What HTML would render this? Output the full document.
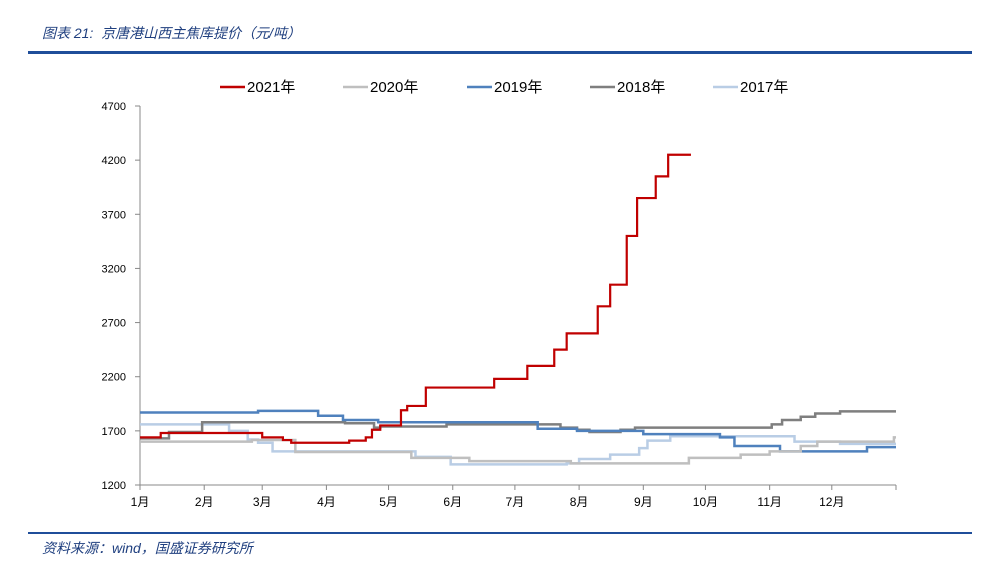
<!DOCTYPE html>
<html><head><meta charset="utf-8"><style>
body{margin:0;background:#fff;width:982px;height:566px;overflow:hidden;position:relative;font-family:"Liberation Sans","Noto Sans CJK SC",sans-serif}
.t{position:absolute;font-style:italic;color:#1f3f7f;font-size:14px}
</style></head><body>
<div class="t" style="left:42px;top:23px">图表 21:&nbsp; 京唐港山西主焦库提价（元/吨）</div>
<div style="position:absolute;left:28px;top:51px;width:944px;height:3px;background:#1f4e9a"></div>
<svg id="c" width="982" height="566" style="position:absolute;left:0;top:0"></svg>
<div style="position:absolute;left:28px;top:532px;width:944px;height:2px;background:#1f4e9a"></div>
<div class="t" style="left:42px;top:538px">资料来源：wind，国盛证券研究所</div>
<script>
const yTicks=[1200,1700,2200,2700,3200,3700,4200,4700];
const months=["1月","2月","3月","4月","5月","6月","7月","8月","9月","10月","11月","12月"];
const monthStart=[0,31,59,90,120,151,181,212,243,273,304,334];
const names=["2021年","2020年","2019年","2018年","2017年"];
const colors=["#c00000","#bfbfbf","#4f81bd","#7f7f7f","#b9cde5"];
const d2021=[0,10,59,69,73,101,109,112,116,126,129,138,171,187,200,206,221,227,235,240,249,255];
const v2021=[1640,1680,1640,1615,1590,1610,1640,1710,1750,1890,1930,2100,2180,2300,2450,2600,2850,3050,3500,3850,4050,4250];
const d2020=[0,54,75,131,159,208,265,290,304,319,327,364];
const v2020=[1600,1615,1505,1450,1420,1400,1450,1480,1510,1560,1600,1640];
const d2019=[0,57,86,98,115,192,211,243,280,287,309,351];
const v2019=[1870,1885,1840,1800,1780,1720,1700,1670,1640,1560,1510,1550];
const d2018=[0,14,30,99,113,116,148,203,211,217,232,239,305,310,319,326,338];
const v2018=[1630,1690,1780,1770,1730,1740,1760,1730,1710,1690,1710,1730,1760,1800,1830,1860,1880];
const d2017=[0,43,52,57,64,133,150,206,212,227,241,245,256,316,338];
const v2017=[1760,1700,1620,1590,1510,1460,1390,1400,1440,1480,1540,1610,1650,1600,1580];
const ends=[266,365,365,365,365];
const X=d=>140+d*756/365, Y=v=>485-(v-1200)*379/3500;
const s=document.getElementById('c'),NS="http://www.w3.org/2000/svg";
function mk(t,a,p){const e=document.createElementNS(NS,t);for(const k in a)e.setAttribute(k,a[k]);(p||s).appendChild(e);return e;}
let e=mk('line',{x1:140,y1:106,x2:140,y2:485,stroke:'#888'});


e=mk('line',{x1:140,y1:485,x2:896,y2:485,stroke:'#888'});


yTicks.forEach(v=>{mk('line',{x1:135,x2:140,y1:Y(v),y2:Y(v),stroke:'#888'});
 const t=mk('text',{x:126,y:Y(v)+4,'text-anchor':'end','font-size':11,fill:'#000'});t.textContent=v;
 
 });
months.forEach((m,i)=>{const x=X(monthStart[i]);mk('line',{x1:x,x2:x,y1:485,y2:490,stroke:'#888'});
 const t=mk('text',{x:x,y:506,'text-anchor':'middle','font-size':12,fill:'#000'});t.textContent=m;
 
 });
mk('line',{x1:896,x2:896,y1:485,y2:490,stroke:'#888'});
const D=[d2021,d2020,d2019,d2018,d2017],V=[v2021,v2020,v2019,v2018,v2017];
for(let k=4;k>=0;k--){let p='';const d=D[k],v=V[k];
 for(let i=0;i<d.length;i++){p+=(i?'L':'M')+X(d[i])+' '+Y(v[i]);const nx=i+1<d.length?d[i+1]:ends[k];p+='L'+X(nx)+' '+Y(v[i]);}
 const l=mk('path',{d:p,fill:'none',stroke:colors[k],'stroke-width':k==0?2.2:2.5});
 
 }
const lx=[220,343,467,590,713];
names.forEach((n,i)=>{const g=mk('g',{});
 
 
 mk('line',{x1:lx[i],x2:lx[i]+25,y1:87,y2:87,stroke:colors[i],'stroke-width':2.5},g);
 const t=mk('text',{x:lx[i]+27,y:92,'font-size':15,fill:'#000'},g);t.textContent=n;});
</script>
</body></html>
